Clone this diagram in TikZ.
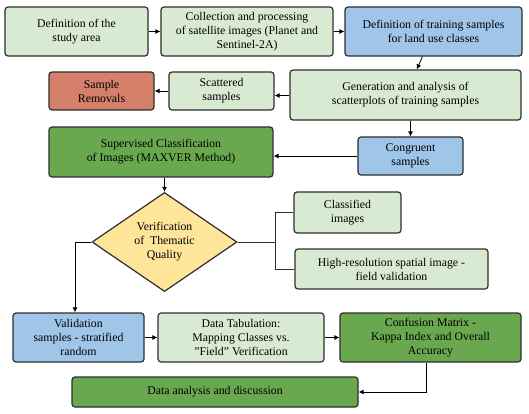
\documentclass[tikz,border=0pt]{standalone}
\usepackage{fontspec}
\setmainfont{Liberation Serif}
\usetikzlibrary{shapes.geometric,arrows.meta}
\definecolor{lgreen}{HTML}{D9EAD3}
\definecolor{lblue}{HTML}{9FC5E8}
\definecolor{salmon}{HTML}{D5806A}
\definecolor{dgreen}{HTML}{6AA84F}
\definecolor{lyellow}{HTML}{FFE599}
\definecolor{edge}{HTML}{2E2E2E}
\tikzset{
  txt/.style={font=\fontsize{11.8}{14}\selectfont},
  box/.style={draw=edge, line width=1.2pt, rounded corners=3pt, align=center, inner sep=1pt, txt},
  gbox/.style={box, fill=lgreen},
  bbox/.style={box, fill=lblue},
  rbox/.style={box, fill=salmon},
  dbox/.style={box, fill=dgreen},
  arr/.style={draw=black, line width=0.8pt, -{Latex[length=5pt,width=5pt]}},
  ln/.style={draw=edge, line width=0.8pt}
}
\begin{document}
\begin{tikzpicture}[x=1pt,y=-1pt]
\useasboundingbox (0,0) rectangle (529,414);
\node[gbox, minimum width=143pt, minimum height=49pt] (b1) at (76.5,31.5) {Definition of the\\study area};
\node[gbox, minimum width=172pt, minimum height=49pt] (b2) at (247,31.5) {Collection and processing\\of satellite images (Planet and\\Sentinel-2A)};
\node[bbox, minimum width=177pt, minimum height=49pt] (b3) at (433.5,31.5) {Definition of training samples\\for land use classes};
\node[gbox, minimum width=231pt, minimum height=50pt] (b4) at (405.5,95) {Generation and analysis of\\scatterplots of training samples};
\node[gbox, minimum width=105pt, minimum height=38pt] (scat) at (221.5,91) {Scattered\\samples};
\node[rbox, minimum width=105pt, minimum height=38pt] (rem) at (101.5,91) {Sample\\Removals};
\node[dbox, minimum width=224pt, minimum height=50pt] (sup) at (161,152) {Supervised Classification\\of Images (MAXVER Method)};
\node[bbox, minimum width=105pt, minimum height=38pt] (cong) at (410.5,156) {Congruent\\samples};
\node[draw=edge, line width=1.2pt, fill=lyellow, diamond, inner sep=0pt, minimum width=145pt, minimum height=99pt, align=center, txt] (dia) at (164.5,242) {Verification\\of\ \ Thematic\\Quality};
\node[gbox, minimum width=107pt, minimum height=41pt] (cls) at (347.5,212.5) {Classified\\images};
\node[gbox, minimum width=193pt, minimum height=40pt] (hr) at (391.5,269) {High-resolution spatial image -\\field validation};
\node[bbox, minimum width=131pt, minimum height=49pt] (val) at (78.5,337.5) {Validation\\samples - stratified\\random};
\node[gbox, minimum width=166pt, minimum height=49pt] (tab) at (241,337.5) {Data Tabulation:\\Mapping Classes vs.\\\symbol{34}Field\symbol{34} Verification};
\node[dbox, minimum width=181pt, minimum height=49pt] (conf) at (430.5,337.5) {Confusion Matrix -\\Kappa Index and Overall\\Accuracy};
\node[dbox, minimum width=286pt, minimum height=30pt] (ana) at (215,392) {Data analysis and discussion};
\coordinate (j) at (275,242);
\coordinate (jl) at (75,242);
\coordinate (jc) at (426,392);
\draw[arr] (b1) -- (b2);
\draw[arr] (b2) -- (b3);
\draw[arr] (b3) -- (b4);
\draw[arr] (b4.west |- 0,95.5) -- (scat.east |- 0,95.5);
\draw[arr] (scat) -- (rem);
\draw[arr] (cong.north |- b4.south) -- (cong.north);
\draw[arr] (cong) -- (cong -| sup.east);
\draw[arr] (sup.south -| dia.north) -- (dia.north);
\draw[ln] (dia.east) -- (j);
\draw[ln] (j |- cls.west) -- (j |- hr.west);
\draw[ln] (j |- cls.west) -- (cls.west);
\draw[ln] (j |- hr.west) -- (hr.west);
\draw[arr] (dia.west) -- (jl) -- (jl |- val.north);
\draw[arr] (val) -- (tab);
\draw[arr] (tab) -- (conf);
\draw[arr] (jc |- conf.south) -- (jc) -- (ana.east);
\end{tikzpicture}
\end{document}
